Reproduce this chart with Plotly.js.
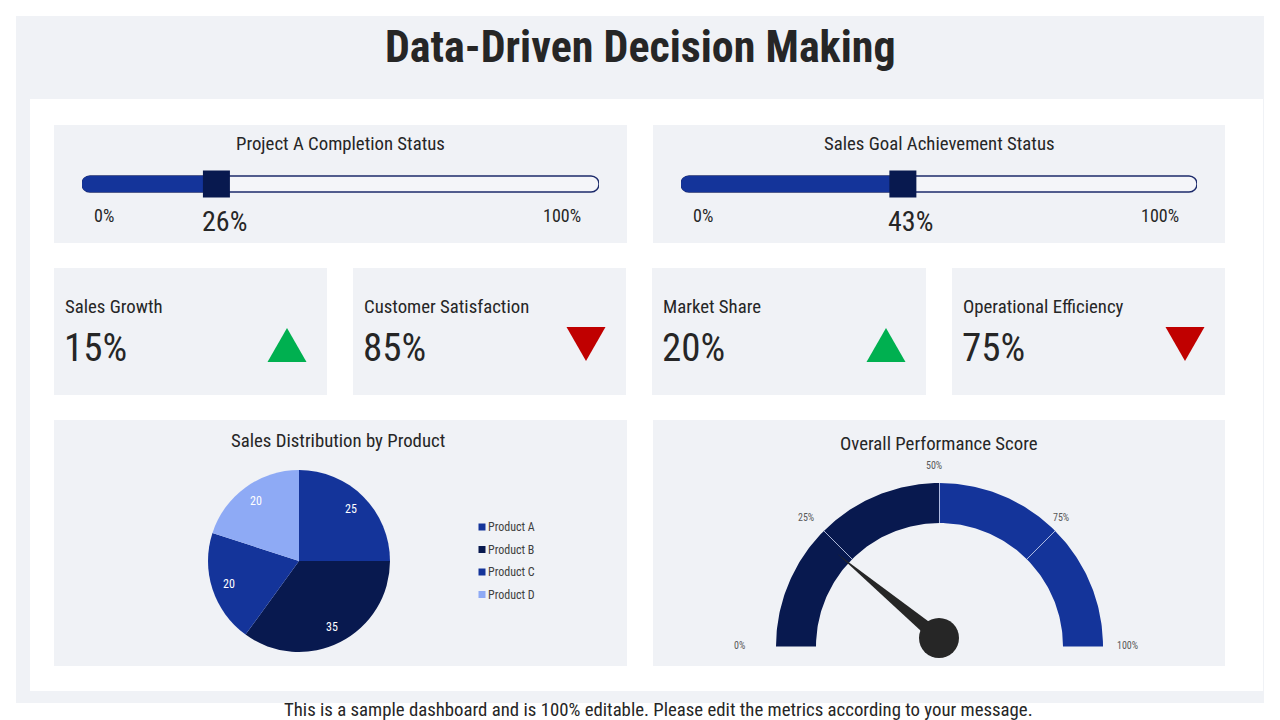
<!DOCTYPE html>
<html>
<head>
<meta charset="utf-8">
<script src="https://cdn.plot.ly/plotly-3.0.1.min.js"></script>
<style>
  html, body { margin: 0; padding: 0; background: #ffffff; }
  #chart { width: 1280px; height: 720px; }
</style>
</head>
<body>
<div id="chart"></div>
<script>
// ---------- data ----------
const progressTitles = ['Project A Completion Status', 'Sales Goal Achievement Status'];
const progressValues = [26, 43];
const progressMax = 100;

const kpiNames = ['Sales Growth', 'Customer Satisfaction', 'Market Share', 'Operational Efficiency'];
const kpiValues = [15, 85, 20, 75];
const kpiTrends = ['up', 'down', 'up', 'down'];

const products = ['Product A', 'Product B', 'Product C', 'Product D'];
const productSales = [25, 35, 20, 20];

const gaugeTicks = [0, 25, 50, 75, 100];
const performanceScore = 22;

// ---------- style ----------
const FONT = 'Liberation Sans Narrow, Arial Narrow, Roboto Condensed, sans-serif';
const PANEL = '#f0f2f6';
const NAVY = '#08194f';
const BLUE = '#14349a';
const LIGHT = '#8eaaf5';
const TEXT = '#262626';
const productColors = [BLUE, NAVY, BLUE, LIGHT];
const gaugeBandColors = [NAVY, NAVY, BLUE, BLUE];
const trendColors = { up: '#00b050', down: '#c00000' };
const HEAD = 18.8;

// page boxes in pixels [x0, y0, x1, y1]
const progressBoxes = [[54, 125, 627, 243], [653, 125, 1225, 243]];
const progressTracks = [[82, 599], [681, 1197]];
const kpiBoxes = [[54, 268, 327, 395], [353, 268, 626, 395], [652, 268, 926, 395], [952, 268, 1225, 395]];
const pieBox = [54, 420, 627, 666];
const gaugeBox = [653, 420, 1225, 666];

const W = 1280, H = 720;
const shapes = [];
const annotations = [];
const traces = [];

function rect(b, color) {
  shapes.push({ type: 'rect', xref: 'x', yref: 'y', x0: b[0], y0: b[1], x1: b[2], y1: b[3],
    fillcolor: color, line: { width: 0 }, layer: 'below' });
}
function label(x, y, text, size, opts) {
  annotations.push(Object.assign({ xref: 'x', yref: 'y', x: x, y: y, text: text, showarrow: false,
    font: { family: FONT, size: size, color: TEXT }, xanchor: 'center', yanchor: 'middle' }, opts || {}));
}

// page frame
rect([16, 16, 1264, 703], PANEL);
rect([30, 99, 1263, 691], '#ffffff');
label(640, 47, '<b>Data-Driven Decision Making</b>', 44);

// ---------- progress bars ----------
progressValues.forEach(function (v, i) {
  const b = progressBoxes[i];
  rect(b, PANEL);
  const ax = i === 0 ? '2' : '3';
  const xa = 'x' + ax, ya = 'y' + ax;
  label((b[0] + b[2]) / 2, 144, progressTitles[i], HEAD);
  label(b[0] + 50, 215, '0%', 18);
  label(b[2] - 65, 215, progressMax + '%', 18);
  annotations.push({ xref: xa, yref: 'y', x: v, y: 221, xshift: 8, text: v + '%', showarrow: false,
    font: { family: FONT, size: 28, color: TEXT }, xanchor: 'center', yanchor: 'middle' });
  traces.push({ type: 'bar', orientation: 'h', x: [progressMax], y: [0], base: 0, width: 0.57,
    xaxis: xa, yaxis: ya, hoverinfo: 'skip', showlegend: false,
    marker: { color: '#f4f5f9', line: { color: '#1d2b6b', width: 1.4 }, cornerradius: 8 } });
  traces.push({ type: 'bar', orientation: 'h', x: [v], y: [0], base: 0, width: 0.57,
    xaxis: xa, yaxis: ya, hoverinfo: 'skip', showlegend: false,
    marker: { color: BLUE, line: { width: 0 }, cornerradius: 8 } });
  traces.push({ type: 'scatter', mode: 'markers', x: [v], y: [0], xaxis: xa, yaxis: ya,
    cliponaxis: false, hoverinfo: 'skip', showlegend: false,
    marker: { symbol: 'square', size: 27, color: NAVY, line: { width: 0 } } });
});

// ---------- KPI tiles ----------
kpiValues.forEach(function (v, i) {
  const b = kpiBoxes[i];
  rect(b, PANEL);
  label(b[0] + 9, 307, kpiNames[i], HEAD, { xanchor: 'left' });
  label(b[0] + 8, 348, v + '%', 39, { xanchor: 'left' });
  const cx = b[2] - 40;
  const up = kpiTrends[i] === 'up';
  const xs = [cx - 19.5, cx + 19.5, cx, cx - 19.5];
  const ys = up ? [362, 362, 328, 362] : [327, 327, 361, 327];
  traces.push({ type: 'scatter', mode: 'lines', x: xs, y: ys, fill: 'toself',
    fillcolor: trendColors[kpiTrends[i]], line: { width: 0, color: trendColors[kpiTrends[i]] },
    hoverinfo: 'skip', showlegend: false, xaxis: 'x', yaxis: 'y' });
});

// ---------- pie ----------
rect(pieBox, PANEL);
label(338, 441, 'Sales Distribution by Product', HEAD);
const pieCx = 299, pieCy = 561, pieR = 91;
traces.push({
  type: 'pie', labels: products, values: productSales, sort: false, direction: 'clockwise', rotation: 0,
  textinfo: 'none',
  marker: { colors: productColors, line: { width: 0 } },
  domain: { x: [(pieCx - pieR) / W, (pieCx + pieR) / W], y: [1 - (pieCy + pieR) / H, 1 - (pieCy - pieR) / H] },
  showlegend: false, hoverinfo: 'skip'
});
// slice value labels, placed at each slice's mid angle
const pieTotal = productSales.reduce(function (s, v) { return s + v; }, 0);
let cum = 0;
productSales.forEach(function (v) {
  const mid = (cum + v / 2) / pieTotal * 2 * Math.PI;
  cum += v;
  label(pieCx + 0.81 * pieR * Math.sin(mid), pieCy - 0.81 * pieR * Math.cos(mid), String(v), 12,
    { font: { family: FONT, size: 12, color: '#ffffff' } });
});
// legend
traces.push({ type: 'scatter', mode: 'markers', x: products.map(function () { return 482; }),
  y: products.map(function (_, i) { return 527 + 22.5 * i; }),
  marker: { symbol: 'square', size: 7, color: productColors, line: { width: 0 } },
  hoverinfo: 'skip', showlegend: false, xaxis: 'x', yaxis: 'y' });
products.forEach(function (p, i) {
  label(486, 527 + 22.5 * i, p, 12, { xanchor: 'left', font: { family: FONT, size: 12, color: '#404040' } });
});

// ---------- gauge ----------
rect(gaugeBox, PANEL);
label(939, 444, 'Overall Performance Score', HEAD);
const gcx = 939.5, gcy = 646.5, gR = 163.5, gr = 123.5;
function ang(v) { return Math.PI * (1 - v / 100); }
for (let i = 0; i < gaugeTicks.length - 1; i++) {
  const a = gaugeTicks[i], b = gaugeTicks[i + 1];
  const xs = [], ys = [];
  for (let v = a; v <= b + 1e-9; v += 0.5) { xs.push(gcx + gR * Math.cos(ang(v))); ys.push(gcy - gR * Math.sin(ang(v))); }
  for (let v = b; v >= a - 1e-9; v -= 0.5) { xs.push(gcx + gr * Math.cos(ang(v))); ys.push(gcy - gr * Math.sin(ang(v))); }
  xs.push(xs[0]); ys.push(ys[0]);
  traces.push({ type: 'scatter', mode: 'lines', x: xs, y: ys, fill: 'toself', fillcolor: gaugeBandColors[i],
    line: { width: 0, color: gaugeBandColors[i] }, hoverinfo: 'skip', showlegend: false, xaxis: 'x', yaxis: 'y' });
}
// thin separators between bands
const sepX = [], sepY = [];
gaugeTicks.slice(1, -1).forEach(function (v) {
  sepX.push(gcx + gr * Math.cos(ang(v)), gcx + gR * Math.cos(ang(v)), null);
  sepY.push(gcy - gr * Math.sin(ang(v)), gcy - gR * Math.sin(ang(v)), null);
});
traces.push({ type: 'scatter', mode: 'lines', x: sepX, y: sepY, line: { color: 'rgba(200,210,240,0.8)', width: 1 },
  hoverinfo: 'skip', showlegend: false, xaxis: 'x', yaxis: 'y' });
// tick labels around the arc; the end labels sit a little further out
gaugeTicks.forEach(function (v) {
  const c = Math.cos(ang(v)), s = Math.sin(ang(v));
  const endPush = Math.abs(c) > 0.99 ? 14 * Math.sign(c) : 0;
  label(gcx - 6 + 180 * c + endPush, gcy - 1.5 - 180 * s, v + '%', 10,
    { font: { family: FONT, size: 10, color: '#595959' } });
});
// needle
const px = gcx - 0.5, py = gcy - 8.5, nLen = 132, nHalf = 7;
const t = ang(performanceScore);
const ux = Math.cos(t), uy = -Math.sin(t);
traces.push({ type: 'scatter', mode: 'lines',
  x: [px + ux * nLen, px - uy * nHalf, px + uy * nHalf, px + ux * nLen],
  y: [py + uy * nLen, py + ux * nHalf, py - ux * nHalf, py + uy * nLen],
  fill: 'toself', fillcolor: '#262626', line: { width: 0, color: '#262626' },
  hoverinfo: 'skip', showlegend: false, xaxis: 'x', yaxis: 'y' });
traces.push({ type: 'scatter', mode: 'markers', x: [px], y: [py],
  marker: { size: 40, color: '#262626', line: { width: 0 } }, hoverinfo: 'skip', showlegend: false, xaxis: 'x', yaxis: 'y' });

// footer
label(658, 710, 'This is a sample dashboard and is 100% editable. Please edit the metrics according to your message.', 18.8);

const hidden = { visible: false, fixedrange: true, showgrid: false, zeroline: false };
function barAxis(track) { return Object.assign({ domain: [track[0] / W, track[1] / W], range: [0, progressMax] }, hidden); }
const barY = Object.assign({ domain: [1 - 198 / H, 1 - 170 / H], range: [-0.5, 0.5] }, hidden);

const layout = {
  width: W, height: H,
  margin: { l: 0, r: 0, t: 0, b: 0 },
  paper_bgcolor: '#ffffff', plot_bgcolor: 'rgba(0,0,0,0)',
  barmode: 'overlay',
  xaxis: Object.assign({ domain: [0, 1], range: [0, W] }, hidden),
  yaxis: Object.assign({ domain: [0, 1], range: [H, 0] }, hidden),
  xaxis2: Object.assign({ anchor: 'y2' }, barAxis(progressTracks[0])),
  yaxis2: Object.assign({ anchor: 'x2' }, barY),
  xaxis3: Object.assign({ anchor: 'y3' }, barAxis(progressTracks[1])),
  yaxis3: Object.assign({ anchor: 'x3' }, barY),
  shapes: shapes,
  annotations: annotations,
  showlegend: false,
  hovermode: false
};

Plotly.newPlot('chart', traces, layout, { staticPlot: true, displayModeBar: false });
</script>
</body>
</html>
